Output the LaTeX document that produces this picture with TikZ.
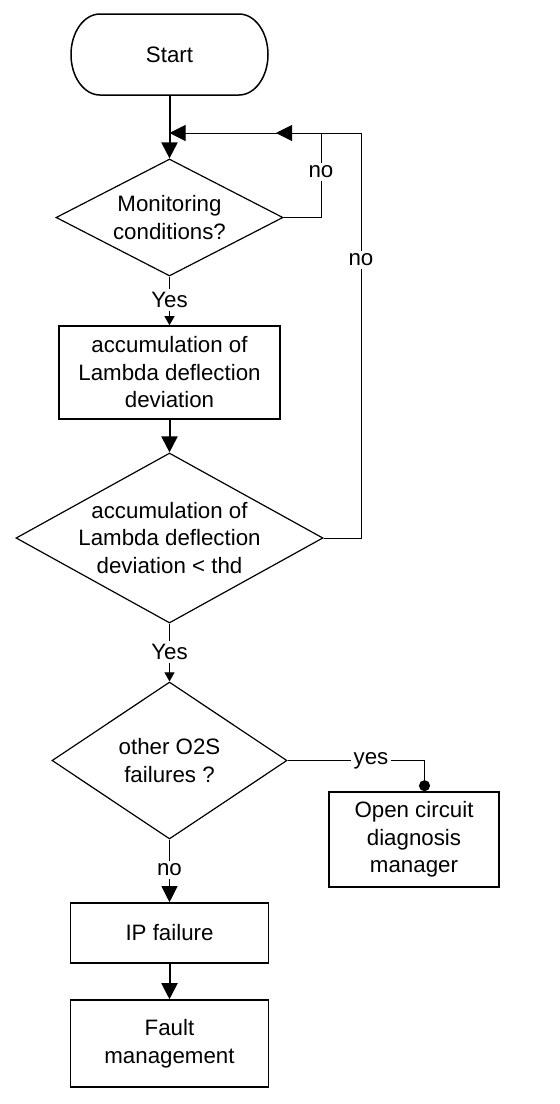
\documentclass[tikz,border=0pt]{standalone}
\usepackage{fontspec}
\setmainfont{Liberation Sans}
\usetikzlibrary{arrows.meta,shapes.geometric}
\begin{document}
\begin{tikzpicture}[x=1pt,y=-1pt,
  every node/.style={font=\fontsize{22.3}{27.5}\selectfont, align=center},
  box/.style={draw, line width=1.6pt, inner sep=0pt},
  dia/.style={draw, diamond, inner sep=0pt, line width=1.2pt},
  txt/.style={inner sep=0pt},
  lbl/.style={fill=white, inner sep=3pt},
  big/.style={-{Triangle[length=16pt,width=16pt]}},
  small/.style={-{Triangle[length=9pt,width=10pt]}},
  dot/.style={-{Circle[length=11pt]}},
  conn/.style={line width=1pt},
  heavy/.style={line width=2pt}
]
\useasboundingbox (0,0) rectangle (560,1104);

% Start terminal
\node[txt, minimum width=197pt, minimum height=81pt] (start) at (169.5,54.5) {Start};
\draw[line width=1.5pt] (100,14) -- (239,14)
  arc[start angle=-90,end angle=90,x radius=29,y radius=40.5] -- (100,95)
  arc[start angle=90,end angle=270,x radius=29,y radius=40.5] -- cycle;

% decisions
\node[dia, minimum width=227pt, minimum height=117pt] (d1) at (169.5,217.5) {};
\node[txt] (t1) at (d1) {Monitoring\\conditions?};

\node[box, minimum width=221pt, minimum height=93pt] (b1) at (169.5,372.5) {accumulation of\\Lambda deflection\\deviation};

\node[dia, minimum width=307pt, minimum height=170pt] (d2) at (169.5,538) {};
\node[txt] (t2) at (d2) {accumulation of\\Lambda deflection\\deviation < thd};

\node[dia, minimum width=235pt, minimum height=157pt] (d3) at (169.5,760.5) {};
\node[txt] (t3) at (d3) {other O2S\\failures ?};

\node[box, minimum width=170pt, minimum height=95pt] (ocd) at (414,839.5) {Open circuit\\diagnosis\\manager};
\node[box, minimum width=198pt, minimum height=60pt] (ip) at (169.5,933) {IP failure};
\node[box, minimum width=198pt, minimum height=87pt] (fm) at (169.5,1043.5) {Fault\\management};

% loop coordinates
\coordinate (j0) at (169.5,133);
\coordinate (k1) at (321,133);
\coordinate (k2) at (361,133);
\coordinate (a2) at (276,133);
\coordinate (k3) at (424.5,760.5);

% main connectors
\draw[heavy,big] (start.south) -- (d1.north);
\draw[conn,small] (d1.south) -- (b1.north);
\draw[heavy,big] (b1.south) -- (d2.north);
\draw[conn,small] (d2.south) -- (d3.north);
\draw[conn,big] (d3.south) -- (ip.north);
\draw[heavy,big] (ip.south) -- (fm.north);

% loops
\draw[conn] (d2.east) -| (k2);
\draw[conn,big] (k2) -- (a2);
\draw[conn] (d1.east) -| (k1);
\draw[conn,big] (k1) -- (j0);

% branch to open circuit
\draw[conn,dot] (d3.east) -- (k3) -- (k3 |- ocd.north);

% labels
\node[lbl] (l1) at (169.5,300) {Yes};
\node[lbl] (l2) at (169.5,652) {Yes};
\node[lbl] (l3) at (169.5,870) {no};
\node[lbl] (l4) at (371,760.5) {yes};
\node[lbl] (l5) at (321,172) {no};
\node[lbl] (l6) at (361,260) {no};
\end{tikzpicture}
\end{document}
